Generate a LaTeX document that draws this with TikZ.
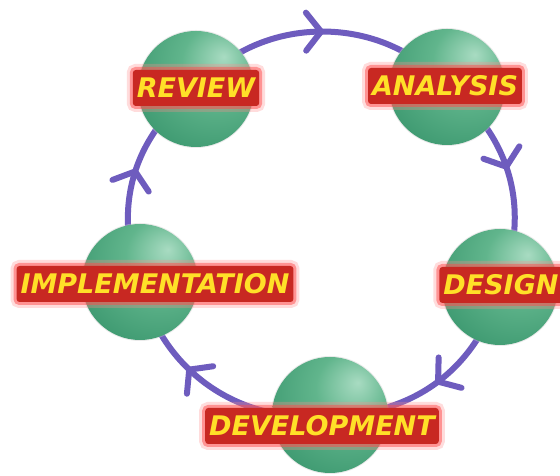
\documentclass[tikz,border=0pt]{standalone}
\usepackage{fontspec}
\usepackage{tikz}
\usetikzlibrary{arrows.meta,decorations.markings}
\newfontfamily\lblfont{DejaVu Sans}
\definecolor{cyc}{RGB}{110,92,190}
\definecolor{bandred}{RGB}{200,40,34}
\definecolor{lblyellow}{RGB}{255,224,40}
\pgfdeclareradialshading{greenball}{\pgfpoint{12bp}{14bp}}{%
  rgb(0bp)=(0.66,0.86,0.76);
  rgb(16bp)=(0.38,0.71,0.55);
  rgb(38bp)=(0.24,0.60,0.44);
  rgb(56bp)=(0.15,0.46,0.32);
  rgb(90bp)=(0.15,0.46,0.32)}
\pgfdeclarelayer{paper}
\pgfdeclarelayer{ring}
\pgfsetlayers{paper,ring,main}
\tikzset{
  ball/.style={circle, minimum size=116pt, inner sep=0pt, shading=greenball,
    preaction={draw=black!20, line width=2pt, opacity=0.4}},
  tag/.style={font=\lblfont\bfseries\itshape\fontsize{27}{27}\selectfont,
    text=lblyellow, fill=bandred, inner xsep=4pt, inner ysep=0pt,
    minimum height=36pt, rounded corners=3pt,
    preaction={draw=red!45, line width=12pt, opacity=0.3, rounded corners=6pt},
    preaction={draw=red!70, line width=6pt, opacity=0.5, rounded corners=4pt}},
  flow/.style={draw=cyc, line width=6pt, line cap=round,
    postaction={decorate, decoration={markings,
      mark=at position #1 with {\draw[cyc, line width=6pt, line cap=round, line join=round]
        (-15pt,19pt) -- (0pt,0pt) -- (-15pt,-19pt);}}}}
}

\begin{document}
\begin{tikzpicture}[x=1pt, y=1pt, >=Latex]
  \useasboundingbox (0,0) rectangle (560,476);
  \begin{pgfonlayer}{paper}
    \fill[white] (0,0) rectangle (560,476);
  \end{pgfonlayer}
  % spheres
  \node[ball] (rev) at (196,387) {};
  \node[ball] (ana) at (447,389) {};
  \node[ball] (des) at (500,189) {};
  \node[ball] (dev) at (330,61) {};
  \node[ball] (imp) at (140,194) {};
  % cycle
  \begin{pgfonlayer}{ring}
    \draw[flow=0.5] (rev.center) to[bend left=50] (ana.center);
    \draw[flow=0.45] (ana.center) to[bend left=38] (des.center);
    \draw[flow=0.5] (des.center) to[bend left=38] (dev.center);
    \draw[flow=0.6] (dev.center) to[bend left=42] (imp.center);
    \draw[flow=0.52] (imp.center) to[bend left=37] (rev.center);
  \end{pgfonlayer}
  % labels
  \node[tag] (trev) at (196,388) {REVIEW};
  \node[tag] (tana) at (445,390) {ANALYSIS};
  \node[tag] (tdes) at (501,191) {DESIGN};
  \node[tag] (timp) at (155,192) {IMPLEMENTATION};
  \node[tag] (tdev) at (322,50) {DEVELOPMENT};
\end{tikzpicture}
\end{document}
